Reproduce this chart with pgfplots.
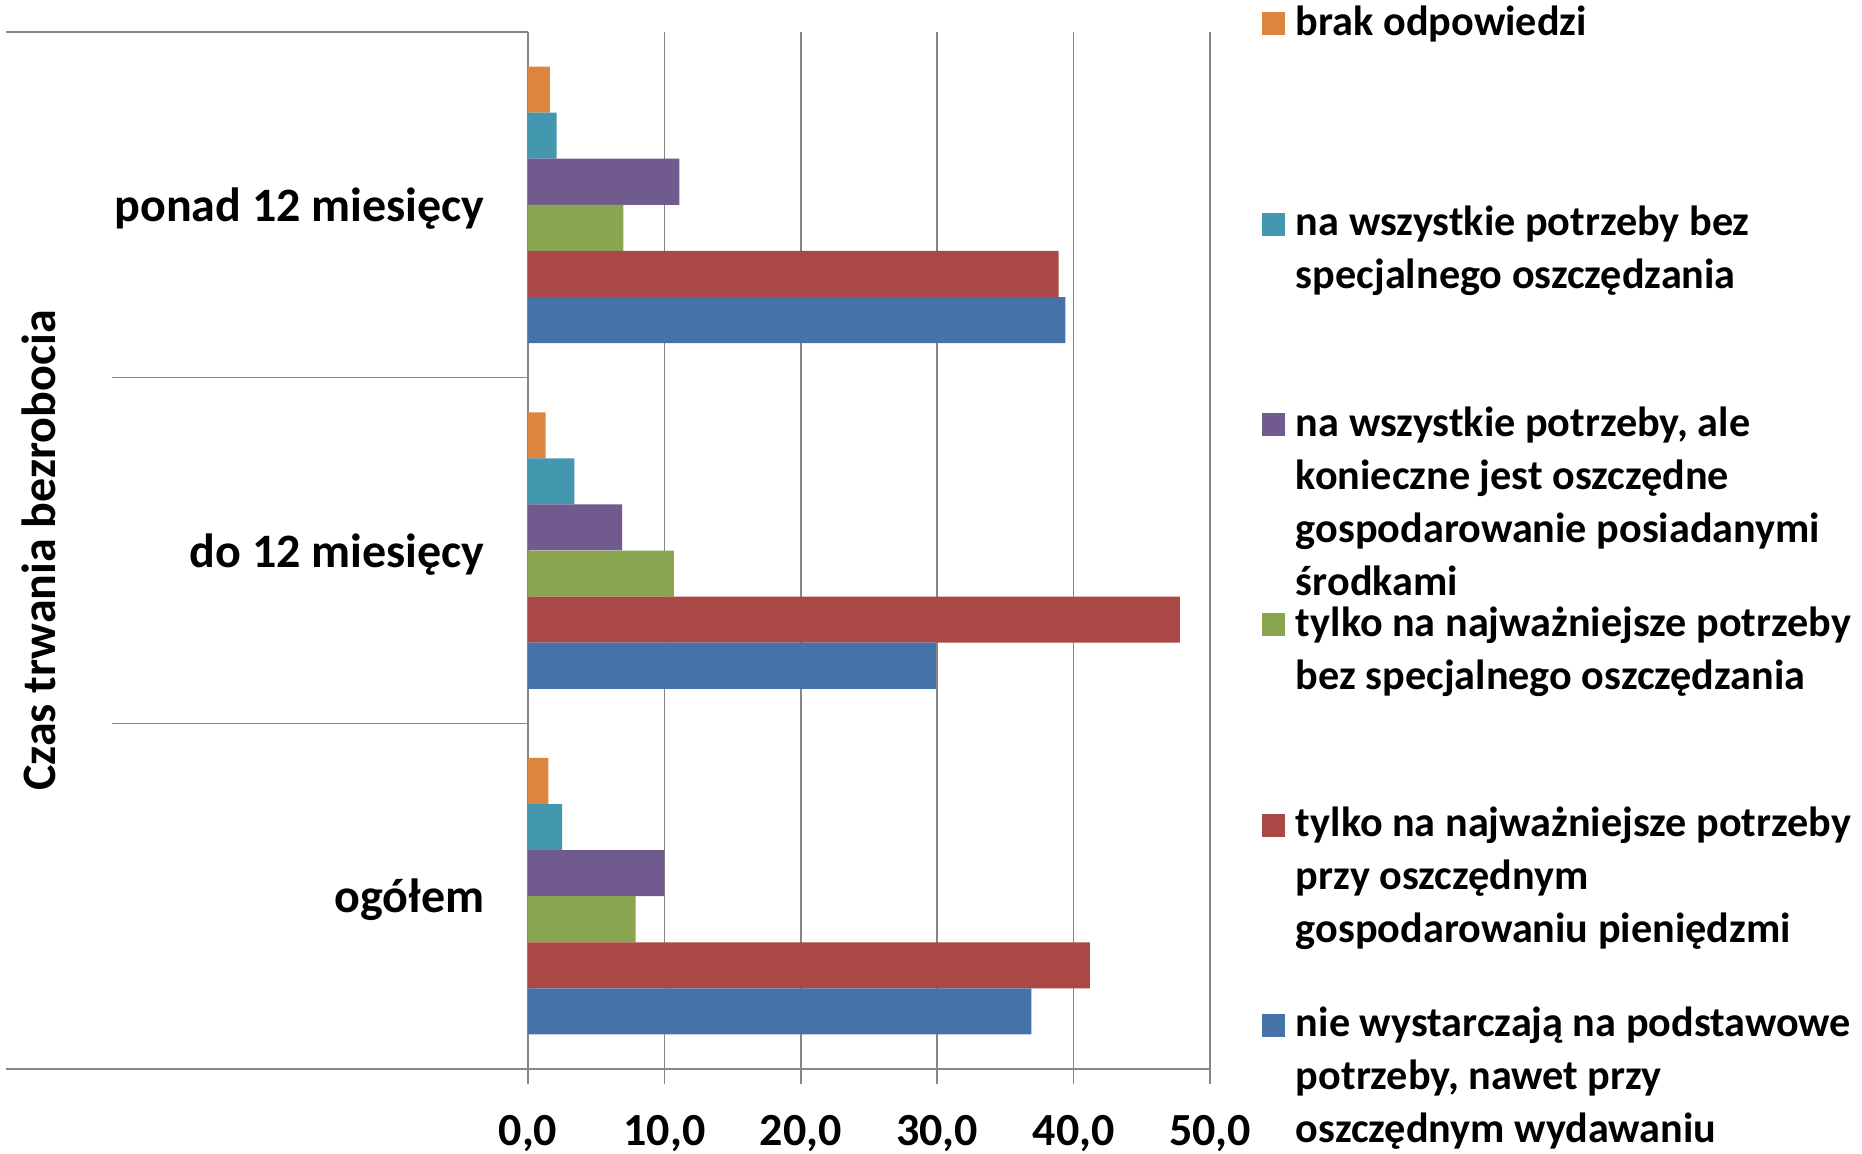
\documentclass[border=0pt]{standalone}
\usepackage{fontspec}
\setmainfont{Carlito}
\usepackage{pgfplots}
\pgfplotsset{compat=1.18}

\definecolor{gridgray}{HTML}{868686}
\definecolor{cblue}{HTML}{4673A7}
\definecolor{cred}{HTML}{A94845}
\definecolor{cgreen}{HTML}{8AA54F}
\definecolor{cpurple}{HTML}{715A8E}
\definecolor{cteal}{HTML}{4398AF}
\definecolor{corange}{HTML}{DC853F}

% square legend marker sitting on the baseline of the first text line
\pgfplotsset{legsq/.style={legend image code/.code={\fill[##1] (0pt,0pt) rectangle (11.5pt,11.5pt);}}}
% multi-line legend text whose baseline is the first line's baseline
\newcommand{\legtxt}[1]{\smash{\begin{tabular}[t]{@{}l@{}}#1\end{tabular}}}

\begin{document}
\begin{tikzpicture}
\begin{axis}[
  name=ax,
  scale only axis, width=341pt, height=518.5pt,
  xbar, bar width=0.1333,
  xmin=0, xmax=50, ymin=-0.5, ymax=2.5,
  axis x line*=bottom, axis y line*=left,
  axis line style={draw=gridgray, line width=0.75pt},
  xmajorgrids, grid style={draw=gridgray, line width=0.75pt},
  tick align=outside, major tick length=7.5pt,
  x tick style={draw=gridgray, line width=0.75pt},
  y tick style={draw=none},
  xtick={0,10,...,50},
  ytick={0,1,2},
  yticklabels={ogółem, do 12 miesięcy, ponad 12 miesięcy},
  /pgf/number format/assume math mode=true,
  /pgf/number format/.cd, fixed, fixed zerofill, precision=1, use comma, /pgfplots/.cd,
  xticklabel style={font=\fontsize{23}{23}\selectfont\bfseries, yshift=-12pt},
  yticklabel style={font=\fontsize{24}{24}\selectfont\bfseries, anchor=east, inner sep=0pt, xshift=-14pt, yshift=-2pt},
  ylabel={Czas trwania bezrobocia},
  every axis y label/.style={at={(axis description cs:0,0.5)}, xshift=-244.5pt, rotate=90, anchor=center, font=\fontsize{24}{24}\selectfont\bfseries},
  clip=false,
  legend cell align=left,
  legend style={draw=none, fill=none, inner sep=0pt, outer sep=0pt,
    at={(1,1)}, anchor=north west, xshift=26pt, yshift=9.8pt,
    row sep=88.15pt, column sep=5.5pt,
    font=\fontsize{21.1}{26.5}\selectfont\bfseries,
    nodes={inner sep=0pt, text depth=0pt, anchor=west}},
]
\addplot[legsq, fill=corange, draw=none, bar shift=0.3333]
  coordinates {(1.5,0) (1.3,1) (1.6,2)};
\addlegendentry{\legtxt{brak odpowiedzi}}
\addplot[legsq, fill=cteal, draw=none, bar shift=0.2]
  coordinates {(2.5,0) (3.4,1) (2.1,2)};
\addlegendentry{\legtxt{na wszystkie potrzeby bez\\specjalnego oszczędzania}}
\addplot[legsq, fill=cpurple, draw=none, bar shift=0.0667]
  coordinates {(10.0,0) (6.9,1) (11.1,2)};
\addlegendentry{\legtxt{na wszystkie potrzeby, ale\\konieczne jest oszczędne\\gospodarowanie posiadanymi\\środkami}}
\addplot[legsq, fill=cgreen, draw=none, bar shift=-0.0667]
  coordinates {(7.9,0) (10.7,1) (7.0,2)};
\addlegendentry{\legtxt{tylko na najważniejsze potrzeby\\bez specjalnego oszczędzania}}
\addplot[legsq, fill=cred, draw=none, bar shift=-0.2]
  coordinates {(41.2,0) (47.8,1) (38.9,2)};
\addlegendentry{\legtxt{tylko na najważniejsze potrzeby\\przy oszczędnym\\gospodarowaniu pieniędzmi}}
\addplot[legsq, fill=cblue, draw=none, bar shift=-0.3333]
  coordinates {(36.9,0) (29.9,1) (39.4,2)};
\addlegendentry{\legtxt{nie wystarczają na podstawowe\\potrzeby, nawet przy\\oszczędnym wydawaniu}}

% category boundaries of the two-level category axis
\draw[gridgray, line width=0.75pt] ([xshift=-261pt]axis cs:0,2.5) -- (axis cs:0,2.5);
\draw[gridgray, line width=0.75pt] ([xshift=-261pt]axis cs:0,-0.5) -- (axis cs:0,-0.5);
\draw[gridgray, line width=0.75pt] ([xshift=-208pt]axis cs:0,1.5) -- (axis cs:0,1.5);
\draw[gridgray, line width=0.75pt] ([xshift=-208pt]axis cs:0,0.5) -- (axis cs:0,0.5);
\end{axis}
\pgfresetboundingbox
\useasboundingbox ([shift={(-264pt,-42pt)}]ax.south west) rectangle ([shift={(326pt,16pt)}]ax.north east);
\end{tikzpicture}
\end{document}
